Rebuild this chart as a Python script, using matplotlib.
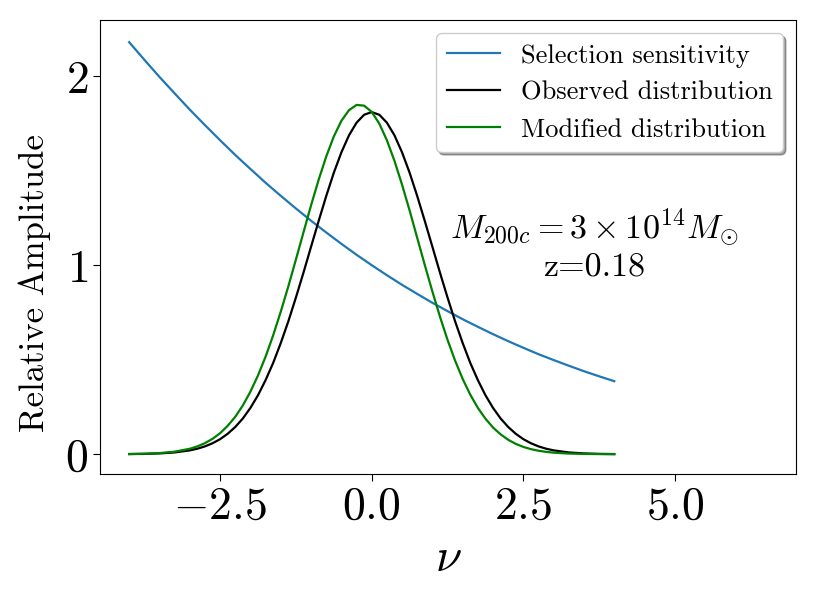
import matplotlib
matplotlib.use('Agg')
import matplotlib.pyplot as plt

plt.rcParams['font.family'] = 'serif'
plt.rcParams['font.serif'] = ['cmr10']
plt.rcParams['mathtext.fontset'] = 'cm'
plt.rcParams['axes.formatter.use_mathtext'] = True

# selection sensitivity (step 0.25)
nu_sel = [-4.0, -3.75, -3.5, -3.25, -3.0, -2.75, -2.5, -2.25, -2.0, -1.75, -1.5,
          -1.25, -1.0, -0.75, -0.5, -0.25, 0.0, 0.25, 0.5, 0.75, 1.0, 1.25, 1.5,
          1.75, 2.0, 2.25, 2.5, 2.75, 3.0, 3.25, 3.5, 3.75, 4.0]
sensitivity = [2.180, 2.087, 1.996, 1.909, 1.823, 1.741, 1.661, 1.583, 1.509,
               1.436, 1.367, 1.300, 1.235, 1.173, 1.113, 1.055, 1.000, 0.947,
               0.896, 0.848, 0.801, 0.757, 0.714, 0.674, 0.635, 0.598, 0.563,
               0.529, 0.498, 0.468, 0.439, 0.412, 0.386]

# distributions, finer steps in the middle
nu_dist = [-4.0, -3.75, -3.5, -3.25,
           -3.0, -2.875, -2.75, -2.625, -2.5, -2.375, -2.25, -2.125,
           -2.0, -1.875, -1.75, -1.625, -1.5, -1.375, -1.25, -1.125,
           -1.0, -0.875, -0.75, -0.625, -0.5, -0.375, -0.25, -0.125,
           0.0, 0.125, 0.25, 0.375, 0.5, 0.625, 0.75, 0.875,
           1.0, 1.125, 1.25, 1.375, 1.5, 1.625, 1.75, 1.875,
           2.0, 2.125, 2.25, 2.375, 2.5, 2.625, 2.75, 2.875, 3.0,
           3.25, 3.5, 3.75, 4.0]

observed = [0.0006, 0.0016, 0.0040, 0.0092,
            0.0201, 0.0290, 0.0413, 0.0578, 0.0795, 0.108, 0.144, 0.189,
            0.245, 0.312, 0.392, 0.483, 0.588, 0.703, 0.829, 0.961,
            1.098, 1.234, 1.366, 1.489, 1.597, 1.687, 1.754, 1.796,
            1.810, 1.796, 1.754, 1.687, 1.597, 1.489, 1.366, 1.234,
            1.098, 0.961, 0.829, 0.703, 0.588, 0.483, 0.392, 0.312,
            0.245, 0.189, 0.144, 0.108, 0.0795, 0.0578, 0.0413, 0.0290, 0.0201,
            0.0092, 0.0040, 0.0016, 0.0006]

modified = [0.0009, 0.0023, 0.0057, 0.0132,
            0.0287, 0.0413, 0.0584, 0.0813, 0.111, 0.150, 0.198, 0.258,
            0.331, 0.417, 0.516, 0.629, 0.754, 0.888, 1.030, 1.174,
            1.317, 1.452, 1.575, 1.681, 1.764, 1.820, 1.848, 1.844,
            1.811, 1.749, 1.661, 1.552, 1.426, 1.289, 1.145, 1.001,
            0.861, 0.728, 0.605, 0.495, 0.398, 0.315, 0.245, 0.188,
            0.141, 0.105, 0.0762, 0.0546, 0.0385, 0.0266, 0.0182, 0.0122, 0.0080,
            0.0033, 0.0013, 0.0005, 0.0002]

fig = plt.figure(figsize=(8.2, 5.95), dpi=100)
ax = fig.add_axes([0.122, 0.203, 0.849, 0.763])

ax.plot(nu_sel, sensitivity, color='#1f77b4', lw=1.6, label='Selection sensitivity')
ax.plot(nu_dist, observed, color='black', lw=1.6, label='Observed distribution')
ax.plot(nu_dist, modified, color='green', lw=1.6, label='Modified distribution')

ax.set_xlim(-4.48, 7.0)
ax.set_ylim(-0.106, 2.296)
ax.set_xticks([-2.5, 0.0, 2.5, 5.0])
ax.set_yticks([0, 1, 2])
ax.tick_params(labelsize=33, length=5)
ax.set_xlabel(r'$\nu$', fontsize=34, labelpad=8)
ax.set_ylabel('Relative Amplitude', fontsize=25)
ax.yaxis.set_label_coords(-0.07, 0.42)

ax.text(3.67, 1.196, r'$M_{200c} = 3 \times 10^{14} M_{\odot}$', fontsize=24.5,
        ha='center', va='center')
ax.text(3.67, 0.984, 'z=0.18', fontsize=24.5, ha='center', va='center')

ax.legend(loc='upper right', fontsize=19, shadow=True, fancybox=True,
          framealpha=1)

fig.savefig('out.png', dpi=100)
